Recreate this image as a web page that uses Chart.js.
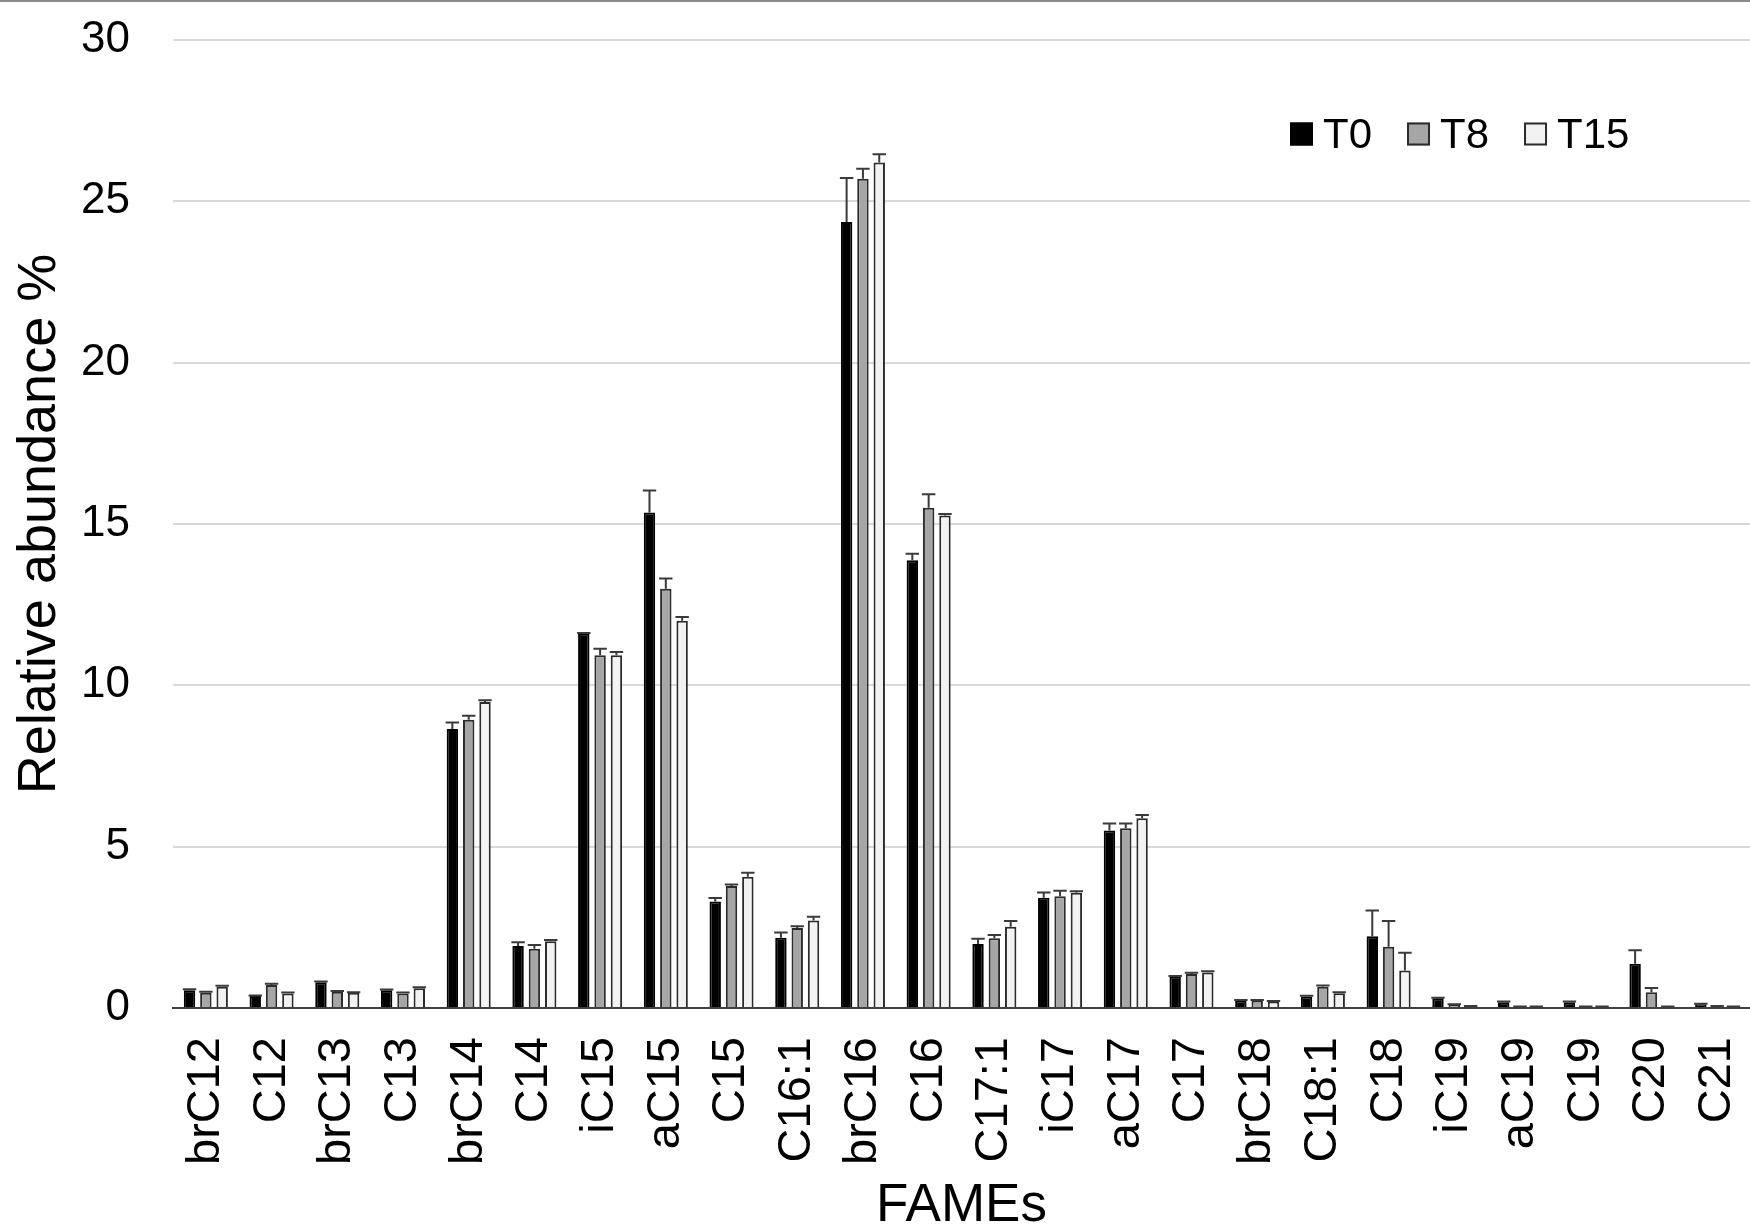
<!DOCTYPE html>
<html>
<head>
<meta charset="utf-8">
<script src="https://cdn.jsdelivr.net/npm/chart.js@4.4.0/dist/chart.umd.min.js"></script>
<style>
  html, body { margin: 0; padding: 0; background: #ffffff; overflow: hidden; }
  #wrap { width: 1750px; height: 1231px; }
</style>
</head>
<body>
<div id="wrap"><canvas id="c" width="1750" height="1231"></canvas></div>
<script>
// ---- data ----
const categories = ['brC12','C12','brC13','C13','brC14','C14','iC15','aC15','C15','C16:1','brC16','C16','C17:1','iC17','aC17','C17','brC18','C18:1','C18','iC19','aC19','C19','C20','C21'];
const seriesNames = ['T0', 'T8', 'T15'];
const t0Values  = [0.55, 0.37, 0.80, 0.55, 8.65, 1.92, 11.60, 15.36, 3.30, 2.18, 24.36, 13.88, 1.98, 3.42, 5.50, 0.97, 0.23, 0.36, 2.22, 0.30, 0.18, 0.18, 1.37, 0.12];
const t0Errors  = [0.03, 0.02, 0.02, 0.02, 0.20, 0.12, 0.02, 0.68, 0.11, 0.16, 1.36, 0.20, 0.17, 0.16, 0.22, 0.02, 0.02, 0.02, 0.80, 0.02, 0.02, 0.02, 0.42, 0.01];
const t8Values  = [0.47, 0.71, 0.50, 0.45, 8.93, 1.84, 10.93, 12.99, 3.78, 2.48, 25.70, 15.50, 2.16, 3.46, 5.57, 1.05, 0.23, 0.66, 1.90, 0.10, 0.04, 0.04, 0.49, 0.05];
const t8Errors  = [0.03, 0.04, 0.03, 0.03, 0.13, 0.11, 0.20, 0.32, 0.05, 0.05, 0.31, 0.42, 0.10, 0.17, 0.15, 0.04, 0.02, 0.04, 0.80, 0.02, 0.01, 0.01, 0.13, 0.01];
const t15Values = [0.66, 0.45, 0.47, 0.61, 9.48, 2.07, 10.93, 12.00, 4.07, 2.71, 26.20, 15.26, 2.52, 3.57, 5.88, 1.10, 0.20, 0.46, 1.16, 0.05, 0.04, 0.04, 0.04, 0.04];
const t15Errors = [0.03, 0.03, 0.02, 0.03, 0.06, 0.04, 0.10, 0.12, 0.12, 0.12, 0.26, 0.05, 0.18, 0.05, 0.10, 0.04, 0.02, 0.03, 0.55, 0.01, 0.01, 0.01, 0.01, 0.01];
const yTickValues = [0, 5, 10, 15, 20, 25, 30];

// ---- styles ----
const FONT = "'Liberation Sans', Arial, sans-serif";
const fills = ['#000000', '#a6a6a6', '#f2f2f2'];
const edge = '#2b2b2b';

const seriesValues = [t0Values, t8Values, t15Values];
const seriesErrors = [t0Errors, t8Errors, t15Errors];

const datasets = seriesNames.map((name, i) => ({
  label: name,
  data: seriesValues[i],
  errors: seriesErrors[i],
  backgroundColor: fills[i],
  borderColor: i === 0 ? '#000000' : edge,
  borderWidth: 2,
  borderSkipped: 'bottom',
  barPercentage: 0.7,
  categoryPercentage: 0.745
}));

const errorBarPlugin = {
  id: 'errorBars',
  afterDatasetsDraw(chart) {
    const ctx = chart.ctx;
    const y = chart.scales.y;
    ctx.save();
    ctx.strokeStyle = '#3a3a3a';
    ctx.lineWidth = 2;
    chart.data.datasets.forEach((ds, di) => {
      const meta = chart.getDatasetMeta(di);
      meta.data.forEach((bar, j) => {
        const v = ds.data[j];
        const e = ds.errors[j];
        if (!e) return;
        const top = y.getPixelForValue(v + e);
        const half = bar.width / 2 + 1;
        ctx.beginPath();
        ctx.moveTo(bar.x, bar.y);
        ctx.lineTo(bar.x, top);
        ctx.moveTo(bar.x - half, top);
        ctx.lineTo(bar.x + half, top);
        ctx.stroke();
      });
    });
    ctx.restore();
  }
};

const framePlugin = {
  id: 'frame',
  beforeDraw(chart) {
    const ctx = chart.ctx;
    ctx.save();
    ctx.fillStyle = '#ffffff';
    ctx.fillRect(0, 0, chart.width, chart.height);
    ctx.fillStyle = '#8a8a8a';
    ctx.fillRect(0, 0, chart.width, 2);
    ctx.restore();
  }
};

const legendPlugin = {
  id: 'customLegend',
  afterDraw(chart) {
    const ctx = chart.ctx;
    ctx.save();
    ctx.font = '42px ' + FONT;
    ctx.textBaseline = 'alphabetic';
    ctx.textAlign = 'left';
    const box = 23;
    const gapText = 10;
    const gapItem = 35;
    let x = 1290;
    const cy = 134;
    chart.data.datasets.forEach((ds) => {
      ctx.fillStyle = ds.backgroundColor;
      ctx.fillRect(x, cy - box / 2, box, box);
      ctx.strokeStyle = ds.borderColor;
      ctx.lineWidth = 2;
      ctx.strokeRect(x + 1, cy - box / 2 + 1, box - 2, box - 2);
      ctx.fillStyle = '#000000';
      const tx = x + box + gapText;
      ctx.fillText(ds.label, tx, cy + 14);
      x = tx + ctx.measureText(ds.label).width + gapItem;
    });
    ctx.restore();
  }
};

new Chart(document.getElementById('c'), {
  type: 'bar',
  data: { labels: categories, datasets },
  plugins: [framePlugin, errorBarPlugin, legendPlugin],
  options: {
    responsive: false,
    animation: false,
    devicePixelRatio: 1,
    layout: { padding: { top: 40, right: 0, bottom: 0, left: 0 } },
    plugins: {
      legend: { display: false },
      tooltip: { enabled: false }
    },
    scales: {
      x: {
        grid: { display: false, drawTicks: false },
        border: { display: true, color: '#404040', width: 2 },
        ticks: {
          color: '#000000',
          font: { family: FONT, size: 47 },
          minRotation: 90,
          maxRotation: 90,
          autoSkip: false,
          padding: 29
        },
        title: {
          display: true,
          text: 'FAMEs',
          color: '#000000',
          font: { family: FONT, size: 53, lineHeight: 0.94 },
          padding: 0
        },
        afterFit(s) { s.height = 223; s.paddingLeft = 0; s.paddingRight = 0; }
      },
      y: {
        min: 0,
        max: 30,
        afterBuildTicks(s) { s.ticks = yTickValues.map(v => ({ value: v })); },
        grid: { color: '#d9d9d9', lineWidth: 2, drawTicks: false },
        border: { display: false },
        ticks: {
          color: '#000000',
          font: { family: FONT, size: 44 },
          padding: 43
        },
        title: {
          display: true,
          text: 'Relative abundance %',
          color: '#000000',
          font: { family: FONT, size: 54, lineHeight: 1.2 },
          padding: { top: 8, bottom: 0 }
        },
        afterFit(s) { s.width = 173; s.paddingTop = 0; s.paddingBottom = 0; }
      }
    }
  }
});
</script>
</body>
</html>
